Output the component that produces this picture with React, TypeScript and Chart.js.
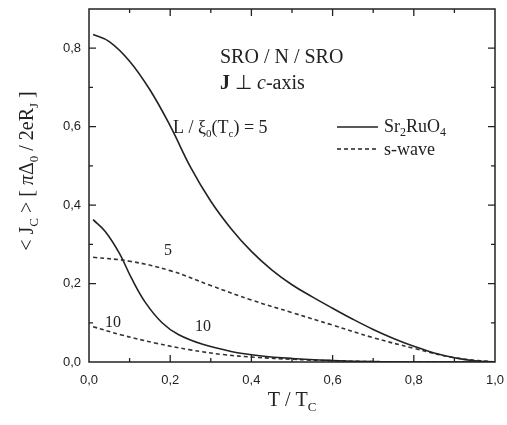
import React, { useEffect, useRef } from "react";
import { Chart, registerables } from "chart.js";

Chart.register(...registerables);

// Data
const sroL5T = [0.01, 0.05, 0.1, 0.15, 0.2, 0.25, 0.3, 0.35, 0.4, 0.45, 0.5, 0.55, 0.6, 0.65, 0.7, 0.75, 0.8, 0.85, 0.9, 0.95, 1.0];
const sroL5J = [0.835, 0.817, 0.767, 0.694, 0.602, 0.497, 0.41, 0.34, 0.282, 0.235, 0.197, 0.166, 0.137, 0.109, 0.083, 0.06, 0.04, 0.023, 0.011, 0.003, 0];

const swaveL5T = [0.01, 0.1, 0.2, 0.3, 0.4, 0.5, 0.6, 0.7, 0.8, 0.9, 1.0];
const swaveL5J = [0.267, 0.257, 0.233, 0.195, 0.158, 0.126, 0.094, 0.062, 0.035, 0.011, 0];

const sroL10T = [0.01, 0.04, 0.075, 0.105, 0.14, 0.18, 0.22, 0.28, 0.35, 0.42, 0.5, 0.6, 0.7, 0.8, 1.0];
const sroL10J = [0.363, 0.333, 0.277, 0.213, 0.15, 0.1, 0.07, 0.045, 0.027, 0.016, 0.009, 0.004, 0.001, 0, 0];

const swaveL10T = [0.01, 0.08, 0.165, 0.25, 0.33, 0.41, 0.5, 0.6, 0.7, 0.8, 1.0];
const swaveL10J = [0.09, 0.069, 0.048, 0.031, 0.019, 0.012, 0.007, 0.003, 0.001, 0, 0];

const xTickValues = [0, 0.2, 0.4, 0.6, 0.8, 1.0];
const yTickValues = [0, 0.2, 0.4, 0.6, 0.8];

const SERIF = "'Liberation Serif', 'Times New Roman', serif";
const SANS = "'Liberation Sans', Arial, sans-serif";
const INK = "#222";

type Run = { t: string; font: string; dy?: number };

function drawRuns(ctx: CanvasRenderingContext2D, runs: Run[], x: number, y: number, align: "left" | "center") {
  let w = 0;
  for (const r of runs) {
    ctx.font = r.font;
    w += ctx.measureText(r.t).width;
  }
  let cx = align === "center" ? x - w / 2 : x;
  ctx.textAlign = "left";
  ctx.textBaseline = "alphabetic";
  for (const r of runs) {
    ctx.font = r.font;
    ctx.fillText(r.t, cx, y + (r.dy || 0));
    cx += ctx.measureText(r.t).width;
  }
}

const f = (size: number, style = "") => `${style} ${size}px ${SERIF}`.trim();
const fmt = (v: number) => v.toFixed(1).replace(".", ",");

const decor = {
  id: "decor",
  afterDraw(chart: any) {
    const ctx: CanvasRenderingContext2D = chart.ctx;
    const { left, right, top, bottom } = chart.chartArea;
    const xs = chart.scales.x;
    const ys = chart.scales.y;
    ctx.save();
    ctx.strokeStyle = INK;
    ctx.fillStyle = INK;
    ctx.lineWidth = 1.5;
    ctx.strokeRect(left, top, right - left, bottom - top);

    // ticks (inward)
    ctx.lineWidth = 1.3;
    ctx.beginPath();
    for (let i = 1; i < 10; i++) {
      const px = xs.getPixelForValue(i / 10);
      const len = i % 2 === 0 ? 7 : 4;
      ctx.moveTo(px, bottom);
      ctx.lineTo(px, bottom - len);
      ctx.moveTo(px, top);
      ctx.lineTo(px, top + len);
    }
    for (let i = 1; i <= 8; i++) {
      const py = ys.getPixelForValue(i / 10);
      const len = i % 2 === 0 ? 7 : 4;
      ctx.moveTo(left, py);
      ctx.lineTo(left + len, py);
      ctx.moveTo(right, py);
      ctx.lineTo(right - len, py);
    }
    ctx.stroke();

    // tick labels
    ctx.font = `13px ${SANS}`;
    ctx.textBaseline = "middle";
    ctx.textAlign = "center";
    for (const t of xs.ticks) {
      ctx.fillText(fmt(t.value), xs.getPixelForValue(t.value), 380);
    }
    ctx.textAlign = "right";
    for (const t of ys.ticks) {
      ctx.fillText(fmt(t.value), left - 8, ys.getPixelForValue(t.value));
    }

    // legend
    const lx0 = 337, lx1 = 378;
    ctx.lineWidth = 1.6;
    ctx.setLineDash([]);
    ctx.beginPath();
    ctx.moveTo(lx0, 127);
    ctx.lineTo(lx1, 127);
    ctx.stroke();
    ctx.setLineDash([4, 3]);
    ctx.beginPath();
    ctx.moveTo(lx0, 149);
    ctx.lineTo(lx1, 149);
    ctx.stroke();
    ctx.setLineDash([]);

    drawRuns(ctx, [
      { t: "Sr", font: f(18) },
      { t: "2", font: f(12), dy: 4 },
      { t: "RuO", font: f(18) },
      { t: "4", font: f(12), dy: 4 },
    ], 384, 132, "left");
    drawRuns(ctx, [{ t: "s-wave", font: f(18) }], 384, 155, "left");

    // header texts
    drawRuns(ctx, [{ t: "SRO / N / SRO", font: f(20) }], 220, 63, "left");
    drawRuns(ctx, [
      { t: "J", font: f(20, "bold") },
      { t: " \u22A5 ", font: f(20) },
      { t: "c", font: f(20, "italic") },
      { t: "-axis", font: f(20) },
    ], 220, 89, "left");

    // curve labels
    drawRuns(ctx, [
      { t: "L / \u03BE", font: f(18) },
      { t: "0", font: f(11), dy: 4 },
      { t: "(T", font: f(18) },
      { t: "c", font: f(11), dy: 4 },
      { t: ") = 5", font: f(18) },
    ], 173, 133, "left");
    drawRuns(ctx, [{ t: "5", font: f(16) }], 168, 255, "center");
    drawRuns(ctx, [{ t: "10", font: f(16) }], 113, 327, "center");
    drawRuns(ctx, [{ t: "10", font: f(16) }], 203, 331, "center");

    // x title
    drawRuns(ctx, [
      { t: "T / T", font: f(20) },
      { t: "C", font: f(13), dy: 5 },
    ], 292, 406, "center");

    // y title
    ctx.translate(33, 171);
    ctx.rotate(-Math.PI / 2);
    drawRuns(ctx, [
      { t: "< J", font: f(20) },
      { t: "C", font: f(13), dy: 5 },
      { t: " > [ ", font: f(20) },
      { t: "\u03C0", font: f(20, "italic") },
      { t: "\u0394", font: f(20) },
      { t: "0", font: f(13), dy: 5 },
      { t: " / 2eR", font: f(20) },
      { t: "J", font: f(13), dy: 5 },
      { t: " ]", font: f(20) },
    ], 0, 0, "center");
    ctx.restore();
  },
};

const toPts = (xs: number[], ys: number[]) => xs.map((x, i) => ({ x, y: ys[i] }));

export default function App() {
  const ref = useRef<HTMLCanvasElement | null>(null);
  useEffect(() => {
    if (!ref.current) return;
    const common = {
      borderColor: INK,
      borderWidth: 1.6,
      pointRadius: 0,
      fill: false,
      tension: 0.4,
    };
    const chart = new Chart(ref.current, {
      type: "line",
      data: {
        datasets: [
          { ...common, label: "Sr2RuO4 L5", data: toPts(sroL5T, sroL5J) },
          { ...common, label: "s-wave L5", data: toPts(swaveL5T, swaveL5J), borderDash: [4, 3], borderColor: "#333" },
          { ...common, label: "Sr2RuO4 L10", data: toPts(sroL10T, sroL10J) },
          { ...common, label: "s-wave L10", data: toPts(swaveL10T, swaveL10J), borderDash: [4, 3], borderColor: "#333" },
        ],
      },
      options: {
        responsive: false,
        animation: false,
        layout: { padding: { left: 0, right: 12, top: 9, bottom: 0 } },
        plugins: { legend: { display: false }, tooltip: { enabled: false } },
        scales: {
          x: {
            type: "linear",
            min: 0,
            max: 1,
            grid: { display: false, drawTicks: false },
            border: { display: false },
            afterBuildTicks: (s: any) => {
              s.ticks = xTickValues.map((v) => ({ value: v }));
            },
            afterFit: (s: any) => {
              s.height = 63;
            },
            ticks: { display: false },
          },
          y: {
            type: "linear",
            min: 0,
            max: 0.9,
            grid: { display: false, drawTicks: false },
            border: { display: false },
            afterBuildTicks: (s: any) => {
              s.ticks = yTickValues.map((v) => ({ value: v }));
            },
            afterFit: (s: any) => {
              s.width = 89;
            },
            ticks: { display: false },
          },
        },
      },
      plugins: [decor],
    });
    return () => chart.destroy();
  }, []);
  return (
    <div style={{ position: "fixed", left: 0, top: 0, width: 507, height: 425, background: "#fff" }}>
      <canvas ref={ref} width={507} height={425} style={{ display: "block" }} />
    </div>
  );
}
